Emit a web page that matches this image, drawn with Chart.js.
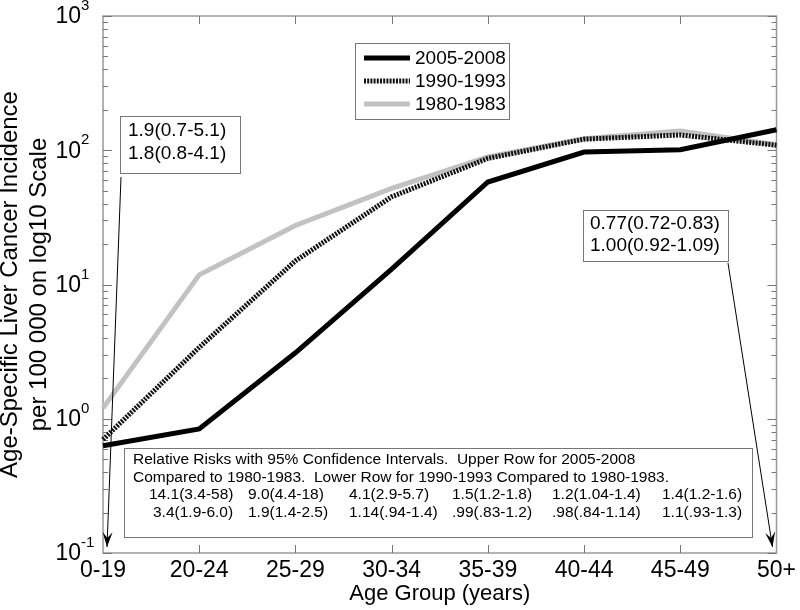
<!DOCTYPE html>
<html>
<head>
<meta charset="utf-8">
<script src="https://cdn.jsdelivr.net/npm/chart.js@4.4.0/dist/chart.umd.min.js"></script>
<style>
  html, body { margin: 0; padding: 0; background: #fff; }
</style>
</head>
<body>
<canvas id="chart" width="800" height="610"></canvas>
<script>
const ageGroups = ['0-19', '20-24', '25-29', '30-34', '35-39', '40-44', '45-49', '50+'];
const inc2005 = [0.63, 0.84, 3.1, 13, 58, 97, 101, 142];
const inc1990 = [0.70, 3.4, 15, 45, 87, 121, 130, 109];
const inc1980 = [1.2, 11.8, 27.5, 52, 89, 122, 139, 110];

const yDecades = [0.1, 1, 10, 100, 1000];
const yExponents = ['-1', '0', '1', '2', '3'];

const leftNote = ['1.9(0.7-5.1)', '1.8(0.8-4.1)'];
const rightNote = ['0.77(0.72-0.83)', '1.00(0.92-1.09)'];
const tableHeader = [
  'Relative Risks with 95% Confidence Intervals.  Upper Row for 2005-2008',
  'Compared to 1980-1983.  Lower Row for 1990-1993 Compared to 1980-1983.'
];
const rrUpper = ['14.1(3.4-58)', '9.0(4.4-18)', '4.1(2.9-5.7)', '1.5(1.2-1.8)', '1.2(1.04-1.4)', '1.4(1.2-1.6)'];
const rrLower = ['3.4(1.9-6.0)', '1.9(1.4-2.5)', '1.14(.94-1.4)', '.99(.83-1.2)', '.98(.84-1.14)', '1.1(.93-1.3)'];

const FONT = "'Liberation Sans', Arial, Helvetica, sans-serif";
Chart.defaults.font.family = FONT;
Chart.defaults.color = '#000';

// frame, inward ticks and 10^n labels
const framePlugin = {
  id: 'frame',
  beforeDatasetsDraw(chart) {
    const { ctx, chartArea: ca, scales } = chart;
    const x = scales.x, y = scales.y;
    ctx.save();
    ctx.strokeStyle = '#999';
    ctx.lineWidth = 1.5;
    ctx.strokeRect(ca.left, ca.top, ca.right - ca.left, ca.bottom - ca.top);

    ctx.lineWidth = 1;
    ctx.strokeStyle = '#777';
    ctx.beginPath();
    // y ticks, major + minor, on both sides
    yDecades.forEach((d, i) => {
      const py = Math.round(y.getPixelForValue(d)) + 0.5;
      ctx.moveTo(ca.left, py); ctx.lineTo(ca.left + 9, py);
      ctx.moveTo(ca.right, py); ctx.lineTo(ca.right - 9, py);
      if (i < yDecades.length - 1) {
        for (let k = 2; k <= 9; k++) {
          const my = Math.round(y.getPixelForValue(k * d)) + 0.5;
          ctx.moveTo(ca.left, my); ctx.lineTo(ca.left + 5, my);
          ctx.moveTo(ca.right, my); ctx.lineTo(ca.right - 5, my);
        }
      }
    });
    // x ticks top and bottom
    for (let i = 1; i < ageGroups.length - 1; i++) {
      const px = Math.round(x.getPixelForValue(i)) + 0.5;
      ctx.moveTo(px, ca.bottom); ctx.lineTo(px, ca.bottom - 8);
      ctx.moveTo(px, ca.top); ctx.lineTo(px, ca.top + 8);
    }
    ctx.stroke();

    // y labels with superscript exponent
    ctx.fillStyle = '#000';
    ctx.textBaseline = 'middle';
    yDecades.forEach((d, i) => {
      const py = y.getPixelForValue(d);
      ctx.font = '23px ' + FONT;
      ctx.textAlign = 'right';
      ctx.fillText('10', 81, py + 1);
      ctx.font = '15px ' + FONT;
      ctx.textAlign = 'left';
      ctx.fillText(yExponents[i], 81, py - 10);
    });
    ctx.restore();
  }
};

function drawBox(ctx, l, t, w, h) {
  ctx.fillStyle = '#fff';
  ctx.fillRect(l, t, w, h);
  ctx.strokeStyle = '#777';
  ctx.lineWidth = 1;
  ctx.strokeRect(l + 0.5, t + 0.5, w, h);
}

function drawArrow(ctx, x0, y0, x1, y1) {
  ctx.strokeStyle = '#000';
  ctx.lineWidth = 1;
  ctx.beginPath();
  ctx.moveTo(x0, y0); ctx.lineTo(x1, y1);
  ctx.stroke();
  const a = Math.atan2(y1 - y0, x1 - x0);
  const len = 15, half = 5;
  const bx = x1 - len * Math.cos(a), by = y1 - len * Math.sin(a);
  const nx = -Math.sin(a), ny = Math.cos(a);
  const mx = x1 - 0.6 * len * Math.cos(a), my = y1 - 0.6 * len * Math.sin(a);
  ctx.fillStyle = '#000';
  ctx.beginPath();
  ctx.moveTo(x1, y1);
  ctx.lineTo(bx + nx * half, by + ny * half);
  ctx.lineTo(mx, my);
  ctx.lineTo(bx - nx * half, by - ny * half);
  ctx.closePath();
  ctx.fill();
}

const notesPlugin = {
  id: 'notes',
  afterDatasetsDraw(chart) {
    const { ctx, chartArea: ca, scales } = chart;
    const x = scales.x, y = scales.y;
    ctx.save();

    // legend
    const lg = { l: 355, t: 43, w: 154, h: 76 };
    drawBox(ctx, lg.l, lg.t, lg.w, lg.h);
    chart.data.datasets.forEach((ds, i) => {
      const ry = lg.t + 15 + i * 23;
      ctx.save();
      ctx.strokeStyle = ds.borderColor;
      ctx.lineWidth = ds.borderWidth;
      ctx.setLineDash(ds.borderDash || []);
      ctx.beginPath();
      ctx.moveTo(lg.l + 9, ry); ctx.lineTo(lg.l + 55, ry);
      ctx.stroke();
      ctx.restore();
      ctx.fillStyle = '#000';
      ctx.font = '19px ' + FONT;
      ctx.textAlign = 'left';
      ctx.textBaseline = 'middle';
      ctx.fillText(ds.label, lg.l + 60, ry + 1);
    });

    const tipY = y.getPixelForValue(0.1) - 6;

    // left note + arrow
    drawBox(ctx, 120, 116, 120, 57);
    ctx.fillStyle = '#000';
    ctx.font = '19px ' + FONT;
    ctx.textAlign = 'left';
    ctx.textBaseline = 'middle';
    leftNote.forEach((t, i) => ctx.fillText(t, 128, 131 + i * 23));
    drawArrow(ctx, 121, 177, x.getPixelForValue(0) + 4, tipY);

    // right note + arrow
    drawBox(ctx, 583, 210, 145, 51);
    ctx.fillStyle = '#000';
    ctx.font = '19px ' + FONT;
    rightNote.forEach((t, i) => ctx.fillText(t, 590, 224 + i * 22));
    drawArrow(ctx, 728, 263, x.getPixelForValue(ageGroups.length - 1) - 4, tipY);

    // relative-risk table
    drawBox(ctx, 124, 448, 628, 89);
    ctx.fillStyle = '#000';
    ctx.font = '15.5px ' + FONT;
    ctx.textBaseline = 'middle';
    tableHeader.forEach((t, i) => ctx.fillText(t, 133, 460 + i * 18));
    const colX = [149, 248, 349, 452, 552, 662];
    rrUpper.forEach((t, i) => ctx.fillText(t, colX[i], 495));
    rrLower.forEach((t, i) => ctx.fillText(t, colX[i] + (i === 0 ? 4 : 0), 513));

    ctx.restore();
  }
};

new Chart(document.getElementById('chart').getContext('2d'), {
  type: 'line',
  data: {
    labels: ageGroups,
    datasets: [
      { label: '2005-2008', data: inc2005, borderColor: '#000', borderWidth: 5, pointRadius: 0 },
      { label: '1990-1993', data: inc1990, borderColor: '#111', borderWidth: 5, borderDash: [2, 1.2], pointRadius: 0 },
      { label: '1980-1983', data: inc1980, borderColor: '#c2c2c2', borderWidth: 5, pointRadius: 0 }
    ]
  },
  options: {
    responsive: false,
    animation: false,
    layout: { padding: { top: 16, right: 23, left: 0, bottom: 0 } },
    plugins: { legend: { display: false }, tooltip: { enabled: false } },
    scales: {
      x: {
        type: 'category',
        offset: false,
        grid: { display: false, drawTicks: false },
        border: { display: false },
        ticks: { font: { size: 23 }, color: '#000', padding: 4, maxRotation: 0, autoSkip: false },
        title: { display: true, text: 'Age Group (years)', font: { size: 22 }, color: '#000', padding: { top: 0, bottom: 3 } },
        afterFit(s) { s.height = 57; }
      },
      y: {
        type: 'logarithmic',
        min: 0.1,
        max: 1000,
        grid: { display: false, drawTicks: false },
        border: { display: false },
        ticks: { display: false },
        title: {
          display: true,
          text: ['Age-Specific Liver Cancer Incidence', 'per 100 000 on log10 Scale'],
          font: { size: 24, lineHeight: 1.2 },
          color: '#000',
          padding: { top: -4, bottom: 0 }
        },
        afterFit(s) { s.width = 103; }
      }
    }
  },
  plugins: [framePlugin, notesPlugin]
});
</script>
</body>
</html>
